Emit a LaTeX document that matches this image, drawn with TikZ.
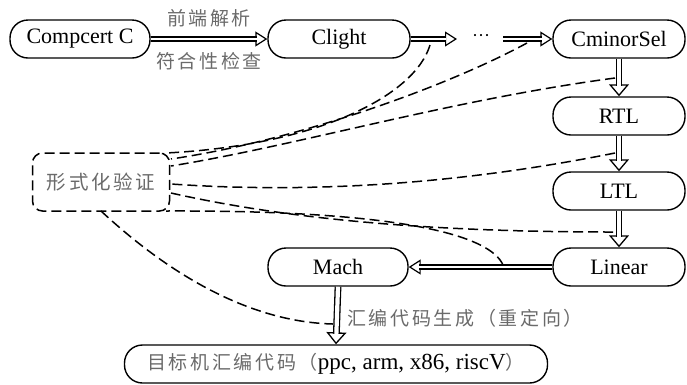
\documentclass[tikz,border=0pt]{standalone}
\usepackage{fontspec}
\setmainfont{Liberation Serif}
\newfontfamily\cjk[LetterSpace=14]{Noto Sans CJK SC}
\usetikzlibrary{arrows.meta}
\definecolor{cgray}{HTML}{6A6A6A}
\tikzset{
  htip/.style={line width=1.2pt, -{Triangle[length=12pt, width=15pt, line width=1.2pt, fill=white]}},
  hshaft/.style={double, double distance=2.8pt, line width=1.2pt, shorten >=10.6pt},
  vtip/.style={line width=1.3pt, -{Triangle[length=12pt, width=20pt, line width=1.3pt, fill=white]}},
  vshaft/.style={double, double distance=4.2pt, line width=1.3pt, shorten >=10.5pt}
}
\newcommand{\harrow}[2]{\draw[htip] #1 -- #2; \draw[hshaft] #1 -- #2;}
\newcommand{\varrow}[2]{\draw[vtip] #1 -- #2; \draw[vshaft] #1 -- #2;}
\begin{document}
\begin{tikzpicture}[x=1pt,y=-1pt,
  box/.style={draw, line width=1.4pt, rounded corners=18pt, minimum height=38pt, inner sep=0pt,
    font=\fontsize{22}{24}\selectfont},
  verif/.style={draw, line width=1.5pt, dash pattern=on 10pt off 5pt, rounded corners=10pt,
    minimum width=137pt, minimum height=58pt, inner sep=0pt, text=cgray,
    font=\fontsize{19.5}{22}\selectfont\cjk},
  lbl/.style={text=cgray, inner sep=0pt, font=\fontsize{19}{22}\selectfont\cjk},
  vline/.style={line width=1.5pt, dash pattern=on 10pt off 5pt}]
\useasboundingbox (0,0) rectangle (687,384);

\node[box, minimum width=140pt] (cc) at (80,39) {Compcert C};
\node[box, minimum width=142pt] (clight) at (339,39) {Clight};
\node[box, minimum width=132pt] (cminor) at (619,39) {CminorSel};
\node[box, minimum width=132pt] (rtl) at (619,116) {RTL};
\node[box, minimum width=132pt] (ltl) at (619,191) {LTL};
\node[box, minimum width=132pt] (linear) at (619,267) {Linear};
\node[box, minimum width=140pt] (mach) at (338,267) {Mach};
\node[box, minimum width=423pt] (target) at (336,364)
  {{\color{cgray}\cjk\fontsize{19}{22}\selectfont 目标机汇编代码（}{\fontsize{23}{24}\selectfont ppc, arm, x86, riscV}{\color{cgray}\cjk\fontsize{19}{22}\selectfont ）}};
\node[verif] (v) at (101,182) {形式化验证};
\node[inner sep=0pt, font=\fontsize{18}{20}\selectfont] (dots) at (481,38) {···};

\coordinate (a1) at (457,39);
\coordinate (a2) at (503,39);

\harrow{(cc.east)}{(clight.west)}
\harrow{(clight.east)}{(a1)}
\harrow{(a2)}{(cminor.west)}
\varrow{(cminor.south)}{(rtl.north)}
\varrow{(rtl.south)}{(ltl.north)}
\varrow{(ltl.south)}{(linear.north)}
\harrow{(linear.west)}{(mach.east)}
\varrow{(mach.south)}{(target.north)}

\node[lbl] (l1) at (209,18) {前端解析};
\node[lbl] (l2) at (209,61) {符合性检查};
\node[lbl, anchor=west] (l3) at (347,318) {汇编代码生成（重定向）};

% dashed verification links
\coordinate (p1) at (430,45);
\coordinate (p2) at (527,43);
\coordinate (p3) at (615,78);
\coordinate (p4) at (615,153);
\coordinate (p5) at (613,232);
\coordinate (p6) at (503,265);
\coordinate (p7) at (333,324);
\coordinate (v1) at (166,153);
\coordinate (v2) at (171,159);
\coordinate (v3) at (171,166);
\coordinate (v4) at (171,184);
\coordinate (v5) at (171,193);
\coordinate (v6) at (166,211);
\coordinate (v7) at (101,211);

\draw[vline] (p1) .. controls (415,95) and (320,145) .. (v1);
\draw[vline] (p2) .. controls (450,85) and (300,140) .. (v2);
\draw[vline] (p3) .. controls (450,100) and (300,145) .. (v3);
\draw[vline] (p4) .. controls (480,180) and (330,195) .. (v4);
\draw[vline] (p5) .. controls (450,232) and (300,222) .. (v5);
\draw[vline] (p6) .. controls (490,235) and (400,210) .. (v6);
\draw[vline] (v7) .. controls (170,275) and (250,322) .. (p7);
\end{tikzpicture}
\end{document}
